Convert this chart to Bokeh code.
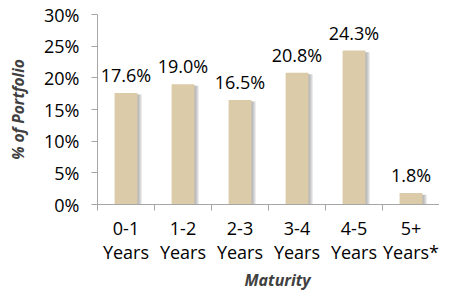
import numpy as np
from bokeh.plotting import figure
from bokeh.models import (ColumnDataSource, Range1d, FixedTicker, PrintfTickFormatter, Title)
from bokeh.core.properties import value
from bokeh.embed import file_html
from bokeh.resources import INLINE

categories = ["0-1\nYears", "1-2\nYears", "2-3\nYears", "3-4\nYears", "4-5\nYears", "5+\nYears*"]
shares = [17.6, 19.0, 16.5, 20.8, 24.3, 1.8]
y_ticks = [0, 5, 10, 15, 20, 25, 30]

FONT = "Open Sans"
BAR = "#DCCBA8"
AXIS = "#A6A6A6"

n = len(categories)
xs = np.arange(n) + 0.5
src = ColumnDataSource(dict(
    x=xs, top=shares,
    lbl=[f"{v:.1f}%" for v in shares],
))

W, H = 439, 291
LEFT, TOP, BOTTOM = 97, 14, 87
CAT = 57.0  # pixels per category
p = figure(width=W, height=H, output_backend="svg", toolbar_location=None,
           x_range=Range1d(0, (W - LEFT) / CAT), y_range=Range1d(0, 30),
           min_border_left=LEFT, min_border_right=0, min_border_top=TOP,
           min_border_bottom=BOTTOM)
p.outline_line_color = None
p.xgrid.visible = False
p.ygrid.visible = False
p.background_fill_color = "white"
p.border_fill_color = "white"

bw = 0.4
px = 1 / CAT
# soft shadow to the right of each bar
for k in (7, 5, 3, 1):
    sh = ColumnDataSource(dict(x=xs + k * px / 2 + 1 * px, top=[v - 0.25 for v in shares]))
    p.vbar(x="x", top="top", bottom=0, width=bw, source=sh,
           fill_color="#707070", fill_alpha=0.15, line_color=None)

p.vbar(x="x", top="top", bottom=0, width=bw, source=src,
       fill_color=BAR, line_color=None)

p.text(x="x", y="top", text="lbl", source=src, text_align="center",
       text_baseline="alphabetic", y_offset=-18,
       text_font=value(FONT), text_font_size="18px", text_color="#000000")

# y axis
ya = p.yaxis[0]
ya.ticker = FixedTicker(ticks=y_ticks, minor_ticks=[])
ya.formatter = PrintfTickFormatter(format="%d%%")
ya.axis_line_color = AXIS
ya.major_tick_line_color = AXIS
ya.major_tick_in = 0
ya.major_tick_out = 6
ya.major_label_standoff = 12
ya.major_label_text_font = FONT
ya.major_label_text_font_size = "18px"
ya.major_label_text_color = "#000000"
ya.axis_label = "% of Portfolio"
ya.axis_label_text_font = FONT
ya.axis_label_text_font_size = "15.5px"
ya.axis_label_text_font_style = "bold italic"
ya.axis_label_text_color = "#404040"
ya.axis_label_standoff = 12

# x axis
xa = p.xaxis[0]
xa.ticker = FixedTicker(ticks=list(xs), minor_ticks=list(range(n)))
xa.major_label_overrides = {float(x): c for x, c in zip(xs, categories)}
xa.axis_line_color = AXIS
xa.major_tick_line_color = None
xa.major_tick_in = 0
xa.major_tick_out = 0
xa.minor_tick_line_color = AXIS
xa.minor_tick_in = 0
xa.minor_tick_out = 6
xa.major_label_standoff = 5
xa.major_label_text_font = FONT
xa.major_label_text_font_size = "18px"
xa.major_label_text_color = "#000000"
xa.major_label_text_line_height = 1.0

t = Title(text="Maturity", align="left", offset=147, text_font=FONT,
          text_font_size="16px", text_font_style="bold italic", text_color="#404040",
          standoff=0)
p.add_layout(t, "below")

open("out.html", "w").write(file_html(p, INLINE))
